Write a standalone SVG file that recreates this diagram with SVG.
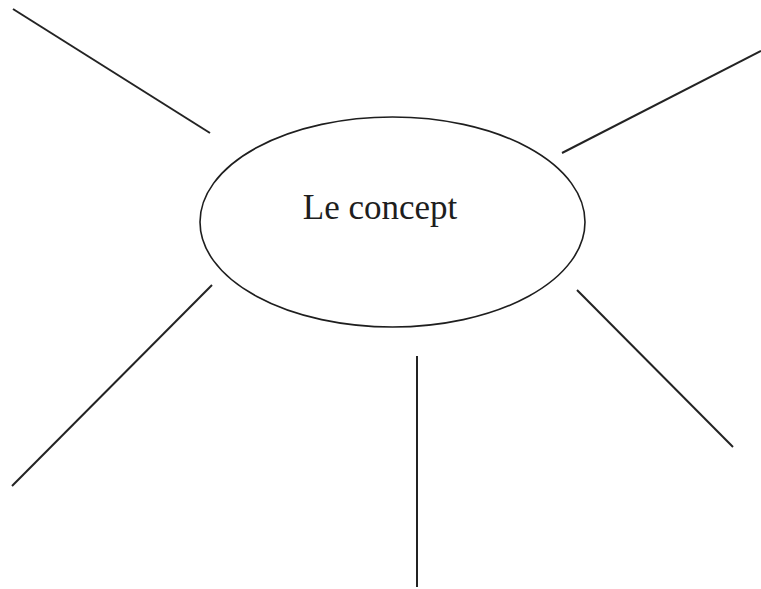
<svg xmlns="http://www.w3.org/2000/svg" width="761" height="589" viewBox="0 0 761 589">
  <style>
    .bg { fill: #ffffff; }
    .concept { fill: none; stroke: #1e1e1e; stroke-width: 1.6; }
    .spoke { stroke: #232323; stroke-width: 2; stroke-linecap: butt; fill: none; }
    .label { font-family: "Liberation Serif", "DejaVu Serif", serif; font-size: 35px; fill: #1e1e1e; text-anchor: middle; }
  </style>
  <rect class="bg" x="0" y="0" width="761" height="589"/>

  <!-- central concept -->
  <g id="concept">
    <ellipse class="concept" cx="392.5" cy="222" rx="192.5" ry="105"/>
    <text class="label" x="380" y="219">Le concept</text>
  </g>

  <!-- radiating spokes -->
  <g id="connectors">
    <line class="spoke" x1="13" y1="9" x2="210" y2="133"/>
    <line class="spoke" x1="562" y1="153" x2="761" y2="51"/>
    <line class="spoke" x1="212" y1="285" x2="12" y2="486"/>
    <line class="spoke" x1="577" y1="290" x2="733" y2="447"/>
    <line class="spoke" x1="417" y1="356" x2="417" y2="587"/>
  </g>
</svg>
